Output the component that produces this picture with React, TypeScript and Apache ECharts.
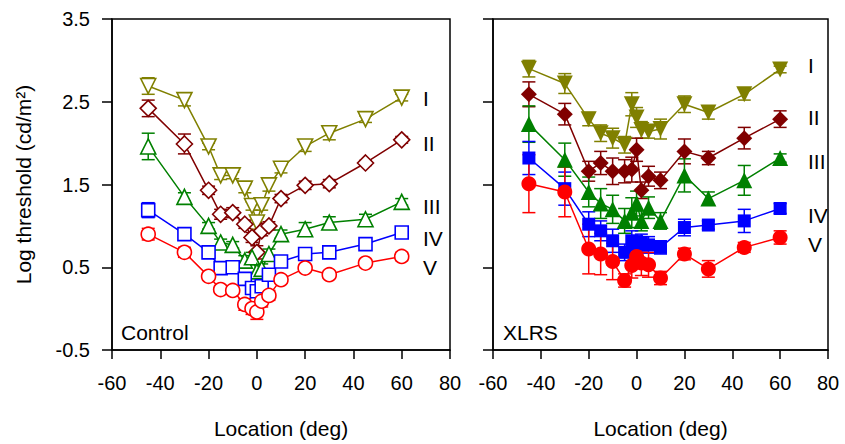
import React, { useEffect, useRef } from "react";
import * as echarts from "echarts";

// Locations (deg)
const locations = [-45, -30, -20, -15, -10, -5, -2, 0, 2, 5, 10, 20, 30, 45, 60];
const groupNames = ["I", "II", "III", "IV", "V"];
const groupColors = ["#808000", "#800000", "#008000", "#0000ff", "#ff0000"];
const yTicks = [-0.5, 0.5, 1.5, 2.5, 3.5];

// Control panel values
const controlI = [2.69, 2.52, 1.96, 1.61, 1.61, 1.45, 1.24, 1.04, 1.25, 1.49, 1.69, 1.96, 2.12, 2.29, 2.55];
const controlII = [2.42, 1.99, 1.43, 1.14, 1.16, 1.02, 0.86, 0.68, 0.94, 1.0, 1.33, 1.49, 1.51, 1.76, 2.04];
const controlIII = [1.96, 1.35, 1.0, 0.8, 0.77, 0.58, 0.62, 0.45, 0.48, 0.66, 0.9, 0.96, 1.04, 1.08, 1.29];
const controlIV = [1.19, 0.9, 0.68, 0.49, 0.5, 0.36, 0.25, 0.21, 0.27, 0.41, 0.57, 0.66, 0.68, 0.78, 0.92];
const controlV = [0.9, 0.68, 0.39, 0.23, 0.22, 0.05, 0.0, -0.04, 0.09, 0.16, 0.35, 0.49, 0.41, 0.55, 0.63];

const controlErrI = [0.1, 0.07, 0.04, 0.05, 0.04, 0.05, 0.05, 0.08, 0.06, 0.07, 0.05, 0.06, 0.08, 0.04, 0.04];
const controlErrII = [0.1, 0.12, 0.05, 0.06, 0.06, 0.05, 0.06, 0.08, 0.06, 0.05, 0.05, 0.05, 0.05, 0.03, 0.04];
const controlErrIII = [0.16, 0.05, 0.04, 0.04, 0.04, 0.06, 0.06, 0.08, 0.06, 0.06, 0.05, 0.08, 0.07, 0.06, 0.04];
const controlErrIV = [0.09, 0.04, 0.04, 0.04, 0.04, 0.05, 0.05, 0.06, 0.05, 0.05, 0.04, 0.04, 0.04, 0.04, 0.04];
const controlErrV = [0.07, 0.06, 0.04, 0.04, 0.04, 0.07, 0.07, 0.09, 0.07, 0.06, 0.04, 0.04, 0.04, 0.04, 0.05];

// XLRS panel values
const xlrsI = [2.9, 2.72, 2.29, 2.12, 2.06, 1.98, 2.47, 2.31, 2.16, 2.14, 2.17, 2.47, 2.37, 2.59, 2.89];
const xlrsII = [2.59, 2.35, 1.66, 1.76, 1.66, 1.66, 1.68, 1.92, 1.43, 1.6, 1.55, 1.9, 1.82, 2.06, 2.29];
const xlrsIII = [2.23, 1.8, 1.41, 1.27, 1.2, 1.06, 1.16, 1.27, 1.06, 1.22, 1.06, 1.61, 1.33, 1.55, 1.82];
const xlrsIV = [1.82, 1.45, 1.02, 0.94, 0.82, 0.68, 0.82, 0.78, 0.8, 0.77, 0.74, 0.98, 1.01, 1.06, 1.21];
const xlrsV = [1.51, 1.41, 0.72, 0.66, 0.57, 0.34, 0.52, 0.63, 0.55, 0.53, 0.37, 0.66, 0.48, 0.74, 0.86];

const xlrsErrI = [0.1, 0.12, 0.08, 0.1, 0.12, 0.1, 0.14, 0.12, 0.1, 0.08, 0.12, 0.1, 0.08, 0.07, 0.04];
const xlrsErrII = [0.15, 0.13, 0.12, 0.14, 0.16, 0.14, 0.15, 0.14, 0.1, 0.12, 0.1, 0.15, 0.08, 0.13, 0.1];
const xlrsErrIII = [0.22, 0.2, 0.18, 0.18, 0.17, 0.15, 0.18, 0.15, 0.12, 0.13, 0.1, 0.2, 0.08, 0.18, 0.05];
const xlrsErrIV = [0.2, 0.2, 0.15, 0.12, 0.14, 0.1, 0.12, 0.1, 0.1, 0.1, 0.08, 0.1, 0.05, 0.14, 0.06];
const xlrsErrV = [0.35, 0.3, 0.3, 0.25, 0.22, 0.08, 0.15, 0.12, 0.15, 0.15, 0.08, 0.07, 0.1, 0.06, 0.08];

const FONT = "'Liberation Sans', Arial, sans-serif";

export default function App() {
  const ref = useRef<HTMLDivElement>(null);

  useEffect(() => {
    document.body.style.margin = "0";
    if (!ref.current) return;
    const chart = echarts.init(ref.current, null, { renderer: "svg" });

    const controlVals = [controlI, controlII, controlIII, controlIV, controlV];
    const controlErrs = [controlErrI, controlErrII, controlErrIII, controlErrIV, controlErrV];
    const xlrsVals = [xlrsI, xlrsII, xlrsIII, xlrsIV, xlrsV];
    const xlrsErrs = [xlrsErrI, xlrsErrII, xlrsErrIII, xlrsErrIV, xlrsErrV];

    const symbols = ["triangle", "diamond", "triangle", "rect", "circle"];
    const rotates = [180, 0, 0, 0, 0];
    const openSizes = [15, 16, 15, 13, 14];
    const filledSizes = [16, 16, 16, 13, 15];

    const series: any[] = [];
    const panels = [
      { vals: controlVals, errs: controlErrs, filled: false, idx: 0 },
      { vals: xlrsVals, errs: xlrsErrs, filled: true, idx: 1 },
    ];
    panels.forEach((p) => {
      p.vals.forEach((vals, g) => {
        const color = groupColors[g];
        const errData = locations.map((x, i) => [x, vals[i], p.errs[g][i]]);
        series.push({
          type: "custom",
          name: `${groupNames[g]}-err-${p.idx}`,
          xAxisIndex: p.idx,
          yAxisIndex: p.idx,
          z: 1,
          data: errData,
          encode: { x: 0, y: 1 },
          renderItem: (params: any, api: any) => {
            const x = api.value(0);
            const y = api.value(1);
            const e = api.value(2);
            const a = api.coord([x, y + e]);
            const b = api.coord([x, y - e]);
            const w = 6.5;
            const st = { stroke: color, lineWidth: 1.5 };
            return {
              type: "group",
              children: [
                { type: "line", shape: { x1: a[0], y1: a[1], x2: b[0], y2: b[1] }, style: st },
                { type: "line", shape: { x1: a[0] - w, y1: a[1], x2: a[0] + w, y2: a[1] }, style: st },
                { type: "line", shape: { x1: b[0] - w, y1: b[1], x2: b[0] + w, y2: b[1] }, style: st },
              ],
            };
          },
        });
        series.push({
          type: "line",
          name: `${groupNames[g]}-${p.idx}`,
          xAxisIndex: p.idx,
          yAxisIndex: p.idx,
          z: 3,
          data: locations.map((x, i) => [x, vals[i]]),
          symbol: symbols[g],
          symbolRotate: rotates[g],
          symbolSize: p.filled ? filledSizes[g] : openSizes[g],
          showAllSymbol: true,
          lineStyle: { color, width: 1.5 },
          itemStyle: p.filled
            ? { color, borderColor: color, borderWidth: 0 }
            : { color: "#ffffff", borderColor: color, borderWidth: 1.6 },
          emphasis: { disabled: true },
        });
      });
    });

    const mkX = (gi: number) => ({
      type: "value",
      gridIndex: gi,
      min: -60,
      max: 80,
      interval: 20,
      name: "Location (deg)",
      nameLocation: "middle",
      nameGap: 68,
      nameTextStyle: { fontSize: 21, color: "#000", fontFamily: FONT },
      axisLine: { show: true, onZero: false, lineStyle: { color: "#000", width: 1.5 } },
      axisTick: { show: true, inside: false, length: 9, lineStyle: { color: "#000", width: 1.5 } },
      axisLabel: { fontSize: 20, color: "#000", fontFamily: FONT, margin: 23 },
      splitLine: { show: false },
    });
    const mkY = (gi: number) => ({
      type: "value",
      gridIndex: gi,
      min: -0.5,
      max: 3.5,
      name: gi === 0 ? "Log threshold (cd/m²)" : "",
      nameLocation: "middle",
      nameGap: 78,
      nameTextStyle: { fontSize: 21, color: "#000", fontFamily: FONT },
      axisLine: { show: true, onZero: false, lineStyle: { color: "#000", width: 1.5 } },
      axisTick: {
        show: true,
        inside: false,
        length: 10,
        customValues: yTicks,
        lineStyle: { color: "#000", width: 1.5 },
      },
      axisLabel: {
        show: gi === 0,
        customValues: yTicks,
        fontSize: 20,
        color: "#000",
        fontFamily: FONT,
        margin: 22,
        formatter: (v: number) => v.toFixed(1),
      },
      splitLine: { show: false },
    });

    const textEl = (x: number, y: number, t: string, size = 21) => ({
      type: "text",
      x,
      y,
      style: { text: t, fontSize: size, fill: "#000", fontFamily: FONT, verticalAlign: "middle" },
      z: 10,
    });
    const leftLabelY = [98, 143, 206, 238, 267];
    const rightLabelY = [65, 117, 161, 215, 244];

    const graphics: any[] = [];
    groupNames.forEach((n, i) => {
      graphics.push(textEl(423, leftLabelY[i], n));
      graphics.push(textEl(808, rightLabelY[i], n));
    });
    graphics.push(textEl(121, 332, "Control"));
    graphics.push(textEl(503, 332, "XLRS"));

    chart.setOption({
      animation: false,
      backgroundColor: "#ffffff",
      textStyle: { fontFamily: FONT },
      grid: [
        { left: 112, top: 19, width: 338, height: 340, show: true, borderColor: "#000", borderWidth: 1.5, backgroundColor: "transparent" },
        { left: 493, top: 19, width: 335, height: 340, show: true, borderColor: "#000", borderWidth: 1.5, backgroundColor: "transparent" },
      ],
      xAxis: [mkX(0), mkX(1)],
      yAxis: [mkY(0), mkY(1)],
      series,
      graphic: graphics,
    });

    return () => chart.dispose();
  }, []);

  return <div ref={ref} style={{ width: 845, height: 444 }} />;
}
